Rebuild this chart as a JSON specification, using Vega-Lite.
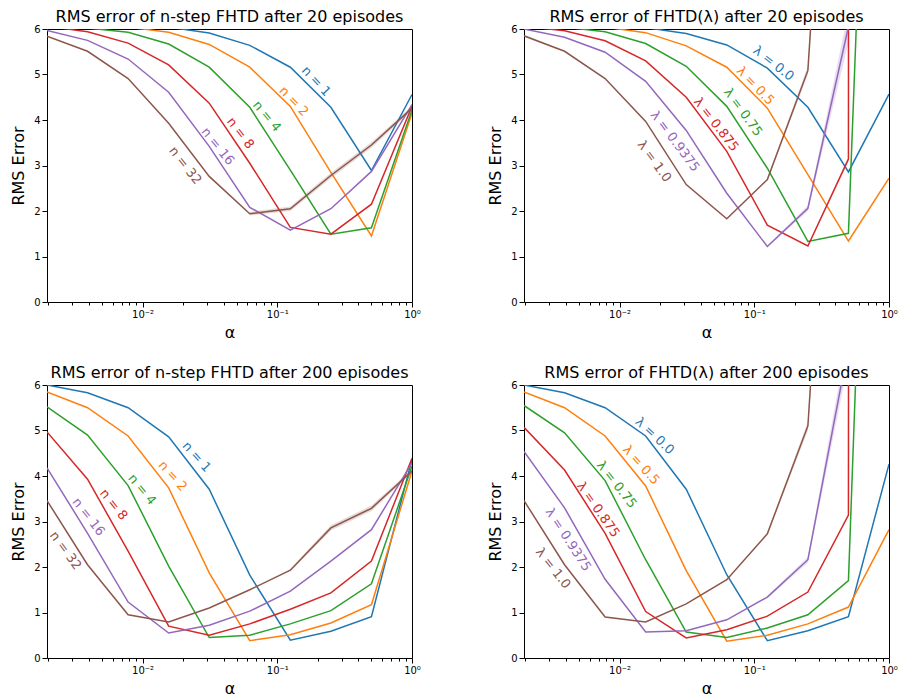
{
"$schema": "https://vega.github.io/schema/vega-lite/v6.json",
"background": "white",
"padding": {"left": 10, "top": 8, "right": 0, "bottom": 0},
"columns": 2,
"spacing": {"row": 83, "column": 112},
"bounds": "flush",
"datasets": {
"d": [
{"p":1,"s":"n = 1","a":0.001953125,"e":6.2},{"p":1,"s":"n = 1","a":0.00390625,"e":6.15},{"p":1,"s":"n = 1","a":0.0078125,"e":6.1},{"p":1,"s":"n = 1","a":0.015625,"e":6.04},{"p":1,"s":"n = 1","a":0.03125,"e":5.91},{"p":1,"s":"n = 1","a":0.0625,"e":5.64},{"p":1,"s":"n = 1","a":0.125,"e":5.16},{"p":1,"s":"n = 1","a":0.25,"e":4.28},{"p":1,"s":"n = 1","a":0.5,"e":2.89},{"p":1,"s":"n = 1","a":1,"e":4.56},
{"p":1,"s":"n = 2","a":0.001953125,"e":6.2},{"p":1,"s":"n = 2","a":0.00390625,"e":6.12},{"p":1,"s":"n = 2","a":0.0078125,"e":6.04},{"p":1,"s":"n = 2","a":0.015625,"e":5.93},{"p":1,"s":"n = 2","a":0.03125,"e":5.66},{"p":1,"s":"n = 2","a":0.0625,"e":5.16},{"p":1,"s":"n = 2","a":0.125,"e":4.3},{"p":1,"s":"n = 2","a":0.25,"e":2.85},{"p":1,"s":"n = 2","a":0.5,"e":1.45},{"p":1,"s":"n = 2","a":1,"e":4.15},
{"p":1,"s":"n = 4","a":0.001953125,"e":6.1},{"p":1,"s":"n = 4","a":0.00390625,"e":6.02},{"p":1,"s":"n = 4","a":0.0078125,"e":5.93},{"p":1,"s":"n = 4","a":0.015625,"e":5.67},{"p":1,"s":"n = 4","a":0.03125,"e":5.16},{"p":1,"s":"n = 4","a":0.0625,"e":4.28},{"p":1,"s":"n = 4","a":0.125,"e":2.9},{"p":1,"s":"n = 4","a":0.25,"e":1.49},{"p":1,"s":"n = 4","a":0.5,"e":1.63},{"p":1,"s":"n = 4","a":1,"e":4.22},
{"p":1,"s":"n = 8","a":0.001953125,"e":6.06},{"p":1,"s":"n = 8","a":0.00390625,"e":5.94},{"p":1,"s":"n = 8","a":0.0078125,"e":5.69},{"p":1,"s":"n = 8","a":0.015625,"e":5.21},{"p":1,"s":"n = 8","a":0.03125,"e":4.37},{"p":1,"s":"n = 8","a":0.0625,"e":3.05},{"p":1,"s":"n = 8","a":0.125,"e":1.64},{"p":1,"s":"n = 8","a":0.25,"e":1.49},{"p":1,"s":"n = 8","a":0.5,"e":2.15},{"p":1,"s":"n = 8","a":1,"e":4.3},
{"p":1,"s":"n = 16","a":0.001953125,"e":5.97},{"p":1,"s":"n = 16","a":0.00390625,"e":5.75},{"p":1,"s":"n = 16","a":0.0078125,"e":5.34},{"p":1,"s":"n = 16","a":0.015625,"e":4.61},{"p":1,"s":"n = 16","a":0.03125,"e":3.42},{"p":1,"s":"n = 16","a":0.0625,"e":2.08},{"p":1,"s":"n = 16","a":0.125,"e":1.58},{"p":1,"s":"n = 16","a":0.25,"e":2.05},{"p":1,"s":"n = 16","a":0.5,"e":2.87},{"p":1,"s":"n = 16","a":1,"e":4.34},
{"p":1,"s":"n = 32","a":0.001953125,"e":5.84},{"p":1,"s":"n = 32","a":0.00390625,"e":5.51},{"p":1,"s":"n = 32","a":0.0078125,"e":4.91},{"p":1,"s":"n = 32","a":0.015625,"e":3.93},{"p":1,"s":"n = 32","a":0.03125,"e":2.76},{"p":1,"s":"n = 32","a":0.0625,"e":1.94},{"p":1,"s":"n = 32","a":0.125,"e":2.05},{"p":1,"s":"n = 32","a":0.25,"e":2.78},{"p":1,"s":"n = 32","a":0.5,"e":3.45},{"p":1,"s":"n = 32","a":1,"e":4.26},
{"p":2,"s":"λ = 0.0","a":0.001953125,"e":6.2},{"p":2,"s":"λ = 0.0","a":0.00390625,"e":6.12},{"p":2,"s":"λ = 0.0","a":0.0078125,"e":6.06},{"p":2,"s":"λ = 0.0","a":0.015625,"e":6.03},{"p":2,"s":"λ = 0.0","a":0.03125,"e":5.9},{"p":2,"s":"λ = 0.0","a":0.0625,"e":5.65},{"p":2,"s":"λ = 0.0","a":0.125,"e":5.14},{"p":2,"s":"λ = 0.0","a":0.25,"e":4.28},{"p":2,"s":"λ = 0.0","a":0.5,"e":2.86},{"p":2,"s":"λ = 0.0","a":1,"e":4.57},
{"p":2,"s":"λ = 0.5","a":0.001953125,"e":6.15},{"p":2,"s":"λ = 0.5","a":0.00390625,"e":6.08},{"p":2,"s":"λ = 0.5","a":0.0078125,"e":6.04},{"p":2,"s":"λ = 0.5","a":0.015625,"e":5.92},{"p":2,"s":"λ = 0.5","a":0.03125,"e":5.63},{"p":2,"s":"λ = 0.5","a":0.0625,"e":5.16},{"p":2,"s":"λ = 0.5","a":0.125,"e":4.26},{"p":2,"s":"λ = 0.5","a":0.25,"e":2.8},{"p":2,"s":"λ = 0.5","a":0.5,"e":1.34},{"p":2,"s":"λ = 0.5","a":1,"e":2.72},
{"p":2,"s":"λ = 0.75","a":0.001953125,"e":6.1},{"p":2,"s":"λ = 0.75","a":0.00390625,"e":6.04},{"p":2,"s":"λ = 0.75","a":0.0078125,"e":5.94},{"p":2,"s":"λ = 0.75","a":0.015625,"e":5.68},{"p":2,"s":"λ = 0.75","a":0.03125,"e":5.18},{"p":2,"s":"λ = 0.75","a":0.0625,"e":4.3},{"p":2,"s":"λ = 0.75","a":0.125,"e":2.94},{"p":2,"s":"λ = 0.75","a":0.25,"e":1.33},{"p":2,"s":"λ = 0.75","a":0.5,"e":1.51},{"p":2,"s":"λ = 0.75","a":1,"e":25},
{"p":2,"s":"λ = 0.875","a":0.001953125,"e":6.06},{"p":2,"s":"λ = 0.875","a":0.00390625,"e":5.96},{"p":2,"s":"λ = 0.875","a":0.0078125,"e":5.74},{"p":2,"s":"λ = 0.875","a":0.015625,"e":5.3},{"p":2,"s":"λ = 0.875","a":0.03125,"e":4.5},{"p":2,"s":"λ = 0.875","a":0.0625,"e":3.31},{"p":2,"s":"λ = 0.875","a":0.125,"e":1.69},{"p":2,"s":"λ = 0.875","a":0.25,"e":1.23},{"p":2,"s":"λ = 0.875","a":0.5,"e":3.14},{"p":2,"s":"λ = 0.875","a":1,"e":2000},
{"p":2,"s":"λ = 0.9375","a":0.001953125,"e":6.0},{"p":2,"s":"λ = 0.9375","a":0.00390625,"e":5.82},{"p":2,"s":"λ = 0.9375","a":0.0078125,"e":5.49},{"p":2,"s":"λ = 0.9375","a":0.015625,"e":4.85},{"p":2,"s":"λ = 0.9375","a":0.03125,"e":3.77},{"p":2,"s":"λ = 0.9375","a":0.0625,"e":2.39},{"p":2,"s":"λ = 0.9375","a":0.125,"e":1.22},{"p":2,"s":"λ = 0.9375","a":0.25,"e":2.06},{"p":2,"s":"λ = 0.9375","a":0.5,"e":6.05},{"p":2,"s":"λ = 0.9375","a":1,"e":2000},
{"p":2,"s":"λ = 1.0","a":0.001953125,"e":5.85},{"p":2,"s":"λ = 1.0","a":0.00390625,"e":5.51},{"p":2,"s":"λ = 1.0","a":0.0078125,"e":4.91},{"p":2,"s":"λ = 1.0","a":0.015625,"e":3.97},{"p":2,"s":"λ = 1.0","a":0.03125,"e":2.58},{"p":2,"s":"λ = 1.0","a":0.0625,"e":1.83},{"p":2,"s":"λ = 1.0","a":0.125,"e":2.69},{"p":2,"s":"λ = 1.0","a":0.25,"e":5.09},{"p":2,"s":"λ = 1.0","a":0.5,"e":19},{"p":2,"s":"λ = 1.0","a":1,"e":2000},
{"p":3,"s":"n = 1","a":0.001953125,"e":6.0},{"p":3,"s":"n = 1","a":0.00390625,"e":5.83},{"p":3,"s":"n = 1","a":0.0078125,"e":5.5},{"p":3,"s":"n = 1","a":0.015625,"e":4.86},{"p":3,"s":"n = 1","a":0.03125,"e":3.71},{"p":3,"s":"n = 1","a":0.0625,"e":1.82},{"p":3,"s":"n = 1","a":0.125,"e":0.39},{"p":3,"s":"n = 1","a":0.25,"e":0.59},{"p":3,"s":"n = 1","a":0.5,"e":0.91},{"p":3,"s":"n = 1","a":1,"e":4.37},
{"p":3,"s":"n = 2","a":0.001953125,"e":5.85},{"p":3,"s":"n = 2","a":0.00390625,"e":5.5},{"p":3,"s":"n = 2","a":0.0078125,"e":4.88},{"p":3,"s":"n = 2","a":0.015625,"e":3.74},{"p":3,"s":"n = 2","a":0.03125,"e":1.87},{"p":3,"s":"n = 2","a":0.0625,"e":0.38},{"p":3,"s":"n = 2","a":0.125,"e":0.51},{"p":3,"s":"n = 2","a":0.25,"e":0.77},{"p":3,"s":"n = 2","a":0.5,"e":1.17},{"p":3,"s":"n = 2","a":1,"e":4.11},
{"p":3,"s":"n = 4","a":0.001953125,"e":5.52},{"p":3,"s":"n = 4","a":0.00390625,"e":4.9},{"p":3,"s":"n = 4","a":0.0078125,"e":3.79},{"p":3,"s":"n = 4","a":0.015625,"e":2.02},{"p":3,"s":"n = 4","a":0.03125,"e":0.45},{"p":3,"s":"n = 4","a":0.0625,"e":0.5},{"p":3,"s":"n = 4","a":0.125,"e":0.75},{"p":3,"s":"n = 4","a":0.25,"e":1.04},{"p":3,"s":"n = 4","a":0.5,"e":1.63},{"p":3,"s":"n = 4","a":1,"e":4.22},
{"p":3,"s":"n = 8","a":0.001953125,"e":4.97},{"p":3,"s":"n = 8","a":0.00390625,"e":3.93},{"p":3,"s":"n = 8","a":0.0078125,"e":2.35},{"p":3,"s":"n = 8","a":0.015625,"e":0.7},{"p":3,"s":"n = 8","a":0.03125,"e":0.5},{"p":3,"s":"n = 8","a":0.0625,"e":0.75},{"p":3,"s":"n = 8","a":0.125,"e":1.07},{"p":3,"s":"n = 8","a":0.25,"e":1.43},{"p":3,"s":"n = 8","a":0.5,"e":2.13},{"p":3,"s":"n = 8","a":1,"e":4.39},
{"p":3,"s":"n = 16","a":0.001953125,"e":4.18},{"p":3,"s":"n = 16","a":0.00390625,"e":2.74},{"p":3,"s":"n = 16","a":0.0078125,"e":1.23},{"p":3,"s":"n = 16","a":0.015625,"e":0.55},{"p":3,"s":"n = 16","a":0.03125,"e":0.72},{"p":3,"s":"n = 16","a":0.0625,"e":1.03},{"p":3,"s":"n = 16","a":0.125,"e":1.47},{"p":3,"s":"n = 16","a":0.25,"e":2.13},{"p":3,"s":"n = 16","a":0.5,"e":2.82},{"p":3,"s":"n = 16","a":1,"e":4.29},
{"p":3,"s":"n = 32","a":0.001953125,"e":3.46},{"p":3,"s":"n = 32","a":0.00390625,"e":2.05},{"p":3,"s":"n = 32","a":0.0078125,"e":0.95},{"p":3,"s":"n = 32","a":0.015625,"e":0.79},{"p":3,"s":"n = 32","a":0.03125,"e":1.1},{"p":3,"s":"n = 32","a":0.0625,"e":1.5},{"p":3,"s":"n = 32","a":0.125,"e":1.93},{"p":3,"s":"n = 32","a":0.25,"e":2.86},{"p":3,"s":"n = 32","a":0.5,"e":3.29},{"p":3,"s":"n = 32","a":1,"e":4.11},
{"p":4,"s":"λ = 0.0","a":0.001953125,"e":6.0},{"p":4,"s":"λ = 0.0","a":0.00390625,"e":5.83},{"p":4,"s":"λ = 0.0","a":0.0078125,"e":5.5},{"p":4,"s":"λ = 0.0","a":0.015625,"e":4.88},{"p":4,"s":"λ = 0.0","a":0.03125,"e":3.71},{"p":4,"s":"λ = 0.0","a":0.0625,"e":1.83},{"p":4,"s":"λ = 0.0","a":0.125,"e":0.38},{"p":4,"s":"λ = 0.0","a":0.25,"e":0.6},{"p":4,"s":"λ = 0.0","a":0.5,"e":0.91},{"p":4,"s":"λ = 0.0","a":1,"e":4.26},
{"p":4,"s":"λ = 0.5","a":0.001953125,"e":5.85},{"p":4,"s":"λ = 0.5","a":0.00390625,"e":5.5},{"p":4,"s":"λ = 0.5","a":0.0078125,"e":4.88},{"p":4,"s":"λ = 0.5","a":0.015625,"e":3.78},{"p":4,"s":"λ = 0.5","a":0.03125,"e":1.92},{"p":4,"s":"λ = 0.5","a":0.0625,"e":0.37},{"p":4,"s":"λ = 0.5","a":0.125,"e":0.5},{"p":4,"s":"λ = 0.5","a":0.25,"e":0.75},{"p":4,"s":"λ = 0.5","a":0.5,"e":1.12},{"p":4,"s":"λ = 0.5","a":1,"e":2.82},
{"p":4,"s":"λ = 0.75","a":0.001953125,"e":5.55},{"p":4,"s":"λ = 0.75","a":0.00390625,"e":4.95},{"p":4,"s":"λ = 0.75","a":0.0078125,"e":3.9},{"p":4,"s":"λ = 0.75","a":0.015625,"e":2.16},{"p":4,"s":"λ = 0.75","a":0.03125,"e":0.57},{"p":4,"s":"λ = 0.75","a":0.0625,"e":0.45},{"p":4,"s":"λ = 0.75","a":0.125,"e":0.66},{"p":4,"s":"λ = 0.75","a":0.25,"e":0.95},{"p":4,"s":"λ = 0.75","a":0.5,"e":1.7},{"p":4,"s":"λ = 0.75","a":1,"e":26.5},
{"p":4,"s":"λ = 0.875","a":0.001953125,"e":5.07},{"p":4,"s":"λ = 0.875","a":0.00390625,"e":4.13},{"p":4,"s":"λ = 0.875","a":0.0078125,"e":2.74},{"p":4,"s":"λ = 0.875","a":0.015625,"e":1.02},{"p":4,"s":"λ = 0.875","a":0.03125,"e":0.44},{"p":4,"s":"λ = 0.875","a":0.0625,"e":0.62},{"p":4,"s":"λ = 0.875","a":0.125,"e":0.92},{"p":4,"s":"λ = 0.875","a":0.25,"e":1.45},{"p":4,"s":"λ = 0.875","a":0.5,"e":3.14},{"p":4,"s":"λ = 0.875","a":1,"e":2000},
{"p":4,"s":"λ = 0.9375","a":0.001953125,"e":4.54},{"p":4,"s":"λ = 0.9375","a":0.00390625,"e":3.3},{"p":4,"s":"λ = 0.9375","a":0.0078125,"e":1.73},{"p":4,"s":"λ = 0.9375","a":0.015625,"e":0.57},{"p":4,"s":"λ = 0.9375","a":0.03125,"e":0.6},{"p":4,"s":"λ = 0.9375","a":0.0625,"e":0.84},{"p":4,"s":"λ = 0.9375","a":0.125,"e":1.34},{"p":4,"s":"λ = 0.9375","a":0.25,"e":2.16},{"p":4,"s":"λ = 0.9375","a":0.5,"e":6.84},{"p":4,"s":"λ = 0.9375","a":1,"e":2000},
{"p":4,"s":"λ = 1.0","a":0.001953125,"e":3.46},{"p":4,"s":"λ = 1.0","a":0.00390625,"e":2.05},{"p":4,"s":"λ = 1.0","a":0.0078125,"e":0.9},{"p":4,"s":"λ = 1.0","a":0.015625,"e":0.79},{"p":4,"s":"λ = 1.0","a":0.03125,"e":1.19},{"p":4,"s":"λ = 1.0","a":0.0625,"e":1.72},{"p":4,"s":"λ = 1.0","a":0.125,"e":2.73},{"p":4,"s":"λ = 1.0","a":0.25,"e":5.1},{"p":4,"s":"λ = 1.0","a":0.5,"e":19},{"p":4,"s":"λ = 1.0","a":1,"e":2000}
],
"b": [
{"p":1,"s":"n = 32","a":0.0625,"e":1.9,"hi":1.98},{"p":1,"s":"n = 32","a":0.125,"e":2.0,"hi":2.1},{"p":1,"s":"n = 32","a":0.25,"e":2.72,"hi":2.84},{"p":1,"s":"n = 32","a":0.5,"e":3.39,"hi":3.51},{"p":1,"s":"n = 32","a":1,"e":4.21,"hi":4.31},
{"p":2,"s":"λ = 0.9375","a":0.125,"e":1.2,"hi":1.24},{"p":2,"s":"λ = 0.9375","a":0.25,"e":2.0,"hi":2.12},{"p":2,"s":"λ = 0.9375","a":0.5,"e":5.7,"hi":6.4},
{"p":2,"s":"λ = 1.0","a":0.125,"e":2.66,"hi":2.72},{"p":2,"s":"λ = 1.0","a":0.25,"e":5.0,"hi":5.18},{"p":2,"s":"λ = 1.0","a":0.5,"e":18,"hi":20},
{"p":2,"s":"λ = 0.875","a":0.25,"e":1.21,"hi":1.25},{"p":2,"s":"λ = 0.875","a":0.5,"e":3.08,"hi":3.2},
{"p":3,"s":"n = 32","a":0.125,"e":1.9,"hi":1.96},{"p":3,"s":"n = 32","a":0.25,"e":2.8,"hi":2.92},{"p":3,"s":"n = 32","a":0.5,"e":3.23,"hi":3.35},{"p":3,"s":"n = 32","a":1,"e":4.07,"hi":4.15},
{"p":4,"s":"λ = 0.9375","a":0.125,"e":1.31,"hi":1.37},{"p":4,"s":"λ = 0.9375","a":0.25,"e":2.1,"hi":2.22},{"p":4,"s":"λ = 0.9375","a":0.5,"e":6.5,"hi":7.2},
{"p":4,"s":"λ = 1.0","a":0.125,"e":2.7,"hi":2.76},{"p":4,"s":"λ = 1.0","a":0.25,"e":5.0,"hi":5.2},{"p":4,"s":"λ = 1.0","a":0.5,"e":18,"hi":20}
],
"l": [
{"p":1,"s":"n = 1","a":0.1945,"e":4.85},{"p":1,"s":"n = 2","a":0.1327,"e":4.41},{"p":1,"s":"n = 4","a":0.0836,"e":4.08},{"p":1,"s":"n = 8","a":0.0532,"e":3.71},{"p":1,"s":"n = 16","a":0.0361,"e":3.42},{"p":1,"s":"n = 32","a":0.0207,"e":3.0},
{"p":2,"s":"λ = 0.0","a":0.139,"e":5.24},{"p":2,"s":"λ = 0.5","a":0.1017,"e":4.75},{"p":2,"s":"λ = 0.75","a":0.0825,"e":4.17},{"p":2,"s":"λ = 0.875","a":0.0521,"e":3.9},{"p":2,"s":"λ = 0.9375","a":0.0258,"e":3.53},{"p":2,"s":"λ = 1.0","a":0.0181,"e":3.09},
{"p":3,"s":"n = 1","a":0.0252,"e":4.42},{"p":3,"s":"n = 2","a":0.0167,"e":4.0},{"p":3,"s":"n = 4","a":0.00989,"e":3.7},{"p":3,"s":"n = 8","a":0.00609,"e":3.37},{"p":3,"s":"n = 16","a":0.00397,"e":3.1},{"p":3,"s":"n = 32","a":0.00268,"e":2.36},
{"p":4,"s":"λ = 0.0","a":0.01824,"e":4.88},{"p":4,"s":"λ = 0.5","a":0.01443,"e":4.24},{"p":4,"s":"λ = 0.75","a":0.0095,"e":3.81},{"p":4,"s":"λ = 0.875","a":0.00693,"e":3.26},{"p":4,"s":"λ = 0.9375","a":0.00415,"e":2.6},{"p":4,"s":"λ = 1.0","a":0.00321,"e":1.97}
]
},
"concat": [
{
"width": 365, "height": 273,
"title": "RMS error of n-step FHTD after 20 episodes",
"layer": [
{
"encoding": {
"x": {"field":"a","type":"quantitative","scale":{"type":"log","domain":[0.001953125,1]},"axis":{"orient":"bottom","values":[0.01,0.1,1],"labelExpr":"datum.value < 0.05 ? '10⁻²' : datum.value < 0.5 ? '10⁻¹' : '10⁰'","tickSize":5,"title":"α","domain":false,"grid":false,"labelFlush":false,"titlePadding":5}},
"y": {"field":"e","type":"quantitative","scale":{"domain":[0,6],"nice":false},"axis":{"values":[0,1,2,3,4,5,6],"title":"RMS Error","tickSize":5,"domain":false,"grid":false,"titlePadding":7}},
"color": {"field":"s","type":"nominal","legend":null,"scale":{"domain":["n = 1","n = 2","n = 4","n = 8","n = 16","n = 32","λ = 0.0","λ = 0.5","λ = 0.75","λ = 0.875","λ = 0.9375","λ = 1.0"],"range":["#1f77b4","#ff7f0e","#2ca02c","#d62728","#9467bd","#8c564b","#1f77b4","#ff7f0e","#2ca02c","#d62728","#9467bd","#8c564b"]}}
},
"layer": [
{"data":{"name":"b"},"transform":[{"filter":"datum.p == 1"}],"mark":{"type":"area","clip":true,"opacity":0.22},"encoding":{"y2":{"field":"hi"}}},
{"data":{"name":"d"},"transform":[{"filter":"datum.p == 1"}],"mark":{"type":"line","clip":true,"strokeWidth":1.5}},
{"data":{"name":"l"},"transform":[{"filter":"datum.p == 1 && datum.s == 'n = 1'"}],"mark":{"type":"text","angle":47},"encoding":{"text":{"field":"s"}}},
{"data":{"name":"l"},"transform":[{"filter":"datum.p == 1 && datum.s == 'n = 2'"}],"mark":{"type":"text","angle":46},"encoding":{"text":{"field":"s"}}},
{"data":{"name":"l"},"transform":[{"filter":"datum.p == 1 && datum.s == 'n = 4'"}],"mark":{"type":"text","angle":50},"encoding":{"text":{"field":"s"}}},
{"data":{"name":"l"},"transform":[{"filter":"datum.p == 1 && datum.s == 'n = 8'"}],"mark":{"type":"text","angle":52},"encoding":{"text":{"field":"s"}}},
{"data":{"name":"l"},"transform":[{"filter":"datum.p == 1 && datum.s == 'n = 16'"}],"mark":{"type":"text","angle":51},"encoding":{"text":{"field":"s"}}},
{"data":{"name":"l"},"transform":[{"filter":"datum.p == 1 && datum.s == 'n = 32'"}],"mark":{"type":"text","angle":52},"encoding":{"text":{"field":"s"}}}
]
},
{"data":{"name":"d"},"transform":[{"filter":"datum.p == 1"}],"mark":{"type":"point","opacity":0},"encoding":{"x":{"field":"a","type":"quantitative","scale":{"type":"log","domain":[0.001953125,1]},"axis":{"orient":"bottom","values":[0.002,0.003,0.004,0.005,0.006,0.007,0.008,0.009,0.02,0.03,0.04,0.05,0.06,0.07,0.08,0.09,0.2,0.3,0.4,0.5,0.6,0.7,0.8,0.9],"tickSize":3,"labels":false,"title":null,"domain":false,"grid":false}}}}
],
"resolve": {"axis": {"x": "independent"}}
},
{
"width": 365, "height": 273,
"title": "RMS error of FHTD(λ) after 20 episodes",
"layer": [
{
"encoding": {
"x": {"field":"a","type":"quantitative","scale":{"type":"log","domain":[0.001953125,1]},"axis":{"orient":"bottom","values":[0.01,0.1,1],"labelExpr":"datum.value < 0.05 ? '10⁻²' : datum.value < 0.5 ? '10⁻¹' : '10⁰'","tickSize":5,"title":"α","domain":false,"grid":false,"labelFlush":false,"titlePadding":5}},
"y": {"field":"e","type":"quantitative","scale":{"domain":[0,6],"nice":false},"axis":{"values":[0,1,2,3,4,5,6],"title":"RMS Error","tickSize":5,"domain":false,"grid":false,"titlePadding":7}},
"color": {"field":"s","type":"nominal","legend":null,"scale":{"domain":["n = 1","n = 2","n = 4","n = 8","n = 16","n = 32","λ = 0.0","λ = 0.5","λ = 0.75","λ = 0.875","λ = 0.9375","λ = 1.0"],"range":["#1f77b4","#ff7f0e","#2ca02c","#d62728","#9467bd","#8c564b","#1f77b4","#ff7f0e","#2ca02c","#d62728","#9467bd","#8c564b"]}}
},
"layer": [
{"data":{"name":"b"},"transform":[{"filter":"datum.p == 2"}],"mark":{"type":"area","clip":true,"opacity":0.22},"encoding":{"y2":{"field":"hi"}}},
{"data":{"name":"d"},"transform":[{"filter":"datum.p == 2"}],"mark":{"type":"line","clip":true,"strokeWidth":1.5}},
{"data":{"name":"l"},"transform":[{"filter":"datum.p == 2 && datum.s == 'λ = 0.0'"}],"mark":{"type":"text","angle":38},"encoding":{"text":{"field":"s"}}},
{"data":{"name":"l"},"transform":[{"filter":"datum.p == 2 && datum.s == 'λ = 0.5'"}],"mark":{"type":"text","angle":46},"encoding":{"text":{"field":"s"}}},
{"data":{"name":"l"},"transform":[{"filter":"datum.p == 2 && datum.s == 'λ = 0.75'"}],"mark":{"type":"text","angle":54},"encoding":{"text":{"field":"s"}}},
{"data":{"name":"l"},"transform":[{"filter":"datum.p == 2 && datum.s == 'λ = 0.875'"}],"mark":{"type":"text","angle":52},"encoding":{"text":{"field":"s"}}},
{"data":{"name":"l"},"transform":[{"filter":"datum.p == 2 && datum.s == 'λ = 0.9375'"}],"mark":{"type":"text","angle":53},"encoding":{"text":{"field":"s"}}},
{"data":{"name":"l"},"transform":[{"filter":"datum.p == 2 && datum.s == 'λ = 1.0'"}],"mark":{"type":"text","angle":54},"encoding":{"text":{"field":"s"}}}
]
},
{"data":{"name":"d"},"transform":[{"filter":"datum.p == 2"}],"mark":{"type":"point","opacity":0},"encoding":{"x":{"field":"a","type":"quantitative","scale":{"type":"log","domain":[0.001953125,1]},"axis":{"orient":"bottom","values":[0.002,0.003,0.004,0.005,0.006,0.007,0.008,0.009,0.02,0.03,0.04,0.05,0.06,0.07,0.08,0.09,0.2,0.3,0.4,0.5,0.6,0.7,0.8,0.9],"tickSize":3,"labels":false,"title":null,"domain":false,"grid":false}}}}
],
"resolve": {"axis": {"x": "independent"}}
},
{
"width": 365, "height": 273,
"title": "RMS error of n-step FHTD after 200 episodes",
"layer": [
{
"encoding": {
"x": {"field":"a","type":"quantitative","scale":{"type":"log","domain":[0.001953125,1]},"axis":{"orient":"bottom","values":[0.01,0.1,1],"labelExpr":"datum.value < 0.05 ? '10⁻²' : datum.value < 0.5 ? '10⁻¹' : '10⁰'","tickSize":5,"title":"α","domain":false,"grid":false,"labelFlush":false,"titlePadding":5}},
"y": {"field":"e","type":"quantitative","scale":{"domain":[0,6],"nice":false},"axis":{"values":[0,1,2,3,4,5,6],"title":"RMS Error","tickSize":5,"domain":false,"grid":false,"titlePadding":7}},
"color": {"field":"s","type":"nominal","legend":null,"scale":{"domain":["n = 1","n = 2","n = 4","n = 8","n = 16","n = 32","λ = 0.0","λ = 0.5","λ = 0.75","λ = 0.875","λ = 0.9375","λ = 1.0"],"range":["#1f77b4","#ff7f0e","#2ca02c","#d62728","#9467bd","#8c564b","#1f77b4","#ff7f0e","#2ca02c","#d62728","#9467bd","#8c564b"]}}
},
"layer": [
{"data":{"name":"b"},"transform":[{"filter":"datum.p == 3"}],"mark":{"type":"area","clip":true,"opacity":0.22},"encoding":{"y2":{"field":"hi"}}},
{"data":{"name":"d"},"transform":[{"filter":"datum.p == 3"}],"mark":{"type":"line","clip":true,"strokeWidth":1.5}},
{"data":{"name":"l"},"transform":[{"filter":"datum.p == 3 && datum.s == 'n = 1'"}],"mark":{"type":"text","angle":48},"encoding":{"text":{"field":"s"}}},
{"data":{"name":"l"},"transform":[{"filter":"datum.p == 3 && datum.s == 'n = 2'"}],"mark":{"type":"text","angle":48},"encoding":{"text":{"field":"s"}}},
{"data":{"name":"l"},"transform":[{"filter":"datum.p == 3 && datum.s == 'n = 4'"}],"mark":{"type":"text","angle":50},"encoding":{"text":{"field":"s"}}},
{"data":{"name":"l"},"transform":[{"filter":"datum.p == 3 && datum.s == 'n = 8'"}],"mark":{"type":"text","angle":51},"encoding":{"text":{"field":"s"}}},
{"data":{"name":"l"},"transform":[{"filter":"datum.p == 3 && datum.s == 'n = 16'"}],"mark":{"type":"text","angle":52},"encoding":{"text":{"field":"s"}}},
{"data":{"name":"l"},"transform":[{"filter":"datum.p == 3 && datum.s == 'n = 32'"}],"mark":{"type":"text","angle":54},"encoding":{"text":{"field":"s"}}}
]
},
{"data":{"name":"d"},"transform":[{"filter":"datum.p == 3"}],"mark":{"type":"point","opacity":0},"encoding":{"x":{"field":"a","type":"quantitative","scale":{"type":"log","domain":[0.001953125,1]},"axis":{"orient":"bottom","values":[0.002,0.003,0.004,0.005,0.006,0.007,0.008,0.009,0.02,0.03,0.04,0.05,0.06,0.07,0.08,0.09,0.2,0.3,0.4,0.5,0.6,0.7,0.8,0.9],"tickSize":3,"labels":false,"title":null,"domain":false,"grid":false}}}}
],
"resolve": {"axis": {"x": "independent"}}
},
{
"width": 365, "height": 273,
"title": "RMS error of FHTD(λ) after 200 episodes",
"layer": [
{
"encoding": {
"x": {"field":"a","type":"quantitative","scale":{"type":"log","domain":[0.001953125,1]},"axis":{"orient":"bottom","values":[0.01,0.1,1],"labelExpr":"datum.value < 0.05 ? '10⁻²' : datum.value < 0.5 ? '10⁻¹' : '10⁰'","tickSize":5,"title":"α","domain":false,"grid":false,"labelFlush":false,"titlePadding":5}},
"y": {"field":"e","type":"quantitative","scale":{"domain":[0,6],"nice":false},"axis":{"values":[0,1,2,3,4,5,6],"title":"RMS Error","tickSize":5,"domain":false,"grid":false,"titlePadding":7}},
"color": {"field":"s","type":"nominal","legend":null,"scale":{"domain":["n = 1","n = 2","n = 4","n = 8","n = 16","n = 32","λ = 0.0","λ = 0.5","λ = 0.75","λ = 0.875","λ = 0.9375","λ = 1.0"],"range":["#1f77b4","#ff7f0e","#2ca02c","#d62728","#9467bd","#8c564b","#1f77b4","#ff7f0e","#2ca02c","#d62728","#9467bd","#8c564b"]}}
},
"layer": [
{"data":{"name":"b"},"transform":[{"filter":"datum.p == 4"}],"mark":{"type":"area","clip":true,"opacity":0.22},"encoding":{"y2":{"field":"hi"}}},
{"data":{"name":"d"},"transform":[{"filter":"datum.p == 4"}],"mark":{"type":"line","clip":true,"strokeWidth":1.5}},
{"data":{"name":"l"},"transform":[{"filter":"datum.p == 4 && datum.s == 'λ = 0.0'"}],"mark":{"type":"text","angle":43},"encoding":{"text":{"field":"s"}}},
{"data":{"name":"l"},"transform":[{"filter":"datum.p == 4 && datum.s == 'λ = 0.5'"}],"mark":{"type":"text","angle":48},"encoding":{"text":{"field":"s"}}},
{"data":{"name":"l"},"transform":[{"filter":"datum.p == 4 && datum.s == 'λ = 0.75'"}],"mark":{"type":"text","angle":52},"encoding":{"text":{"field":"s"}}},
{"data":{"name":"l"},"transform":[{"filter":"datum.p == 4 && datum.s == 'λ = 0.875'"}],"mark":{"type":"text","angle":55},"encoding":{"text":{"field":"s"}}},
{"data":{"name":"l"},"transform":[{"filter":"datum.p == 4 && datum.s == 'λ = 0.9375'"}],"mark":{"type":"text","angle":57},"encoding":{"text":{"field":"s"}}},
{"data":{"name":"l"},"transform":[{"filter":"datum.p == 4 && datum.s == 'λ = 1.0'"}],"mark":{"type":"text","angle":52},"encoding":{"text":{"field":"s"}}}
]
},
{"data":{"name":"d"},"transform":[{"filter":"datum.p == 4"}],"mark":{"type":"point","opacity":0},"encoding":{"x":{"field":"a","type":"quantitative","scale":{"type":"log","domain":[0.001953125,1]},"axis":{"orient":"bottom","values":[0.002,0.003,0.004,0.005,0.006,0.007,0.008,0.009,0.02,0.03,0.04,0.05,0.06,0.07,0.08,0.09,0.2,0.3,0.4,0.5,0.6,0.7,0.8,0.9],"tickSize":3,"labels":false,"title":null,"domain":false,"grid":false}}}}
],
"resolve": {"axis": {"x": "independent"}}
}
],
"config": {
"view": {"stroke": "#000", "strokeWidth": 1},
"axis": {"labelFont": "DejaVu Sans", "labelFontSize": 10, "labelColor": "#000", "tickColor": "#000", "tickWidth": 1, "titleFont": "DejaVu Sans", "titleFontSize": 16, "titleFontWeight": "normal", "titleColor": "#000", "labelPadding": 2},
"title": {"font": "DejaVu Sans", "fontSize": 16, "fontWeight": "normal", "color": "#000", "offset": -1},
"text": {"font": "DejaVu Sans", "fontSize": 13, "align": "center", "baseline": "middle"}
}
}
